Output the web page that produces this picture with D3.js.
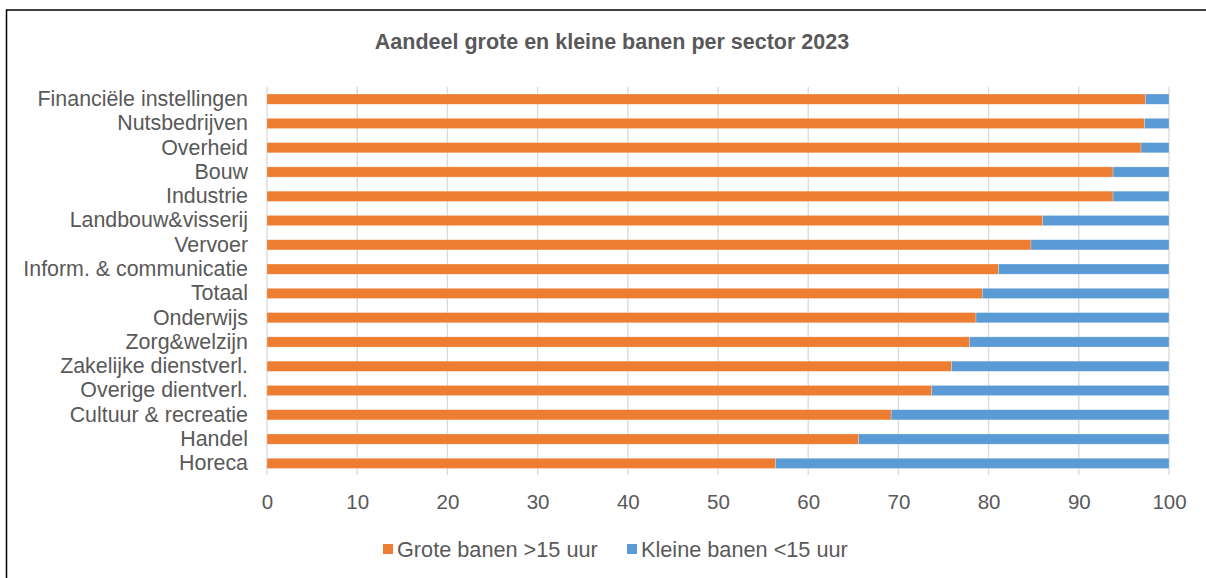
<!DOCTYPE html>
<html><head><meta charset="utf-8">
<script src="https://cdn.jsdelivr.net/npm/d3@7/dist/d3.min.js"></script>
<style>body{margin:0;background:#fff;} svg{display:block;font-family:"Liberation Sans",Arial,sans-serif;}</style>
</head><body>
<svg id="c" width="1206" height="578"></svg>
<script>
const title = "Aandeel grote en kleine banen per sector 2023";
const categories = ["Financiële instellingen","Nutsbedrijven","Overheid","Bouw","Industrie","Landbouw&visserij","Vervoer","Inform. & communicatie","Totaal","Onderwijs","Zorg&welzijn","Zakelijke dienstverl.","Overige dientverl.","Cultuur & recreatie","Handel","Horeca"];
const grote = [97.4,97.3,96.9,93.8,93.8,86.0,84.7,81.1,79.3,78.6,77.9,75.9,73.7,69.2,65.6,56.4];
const kleine = grote.map(v => +(100 - v).toFixed(1));
const seriesNames = ["Grote banen >15 uur","Kleine banen <15 uur"];
const colors = ["#ED7D31","#5B9BD5"];
const xTicks = [0,10,20,30,40,50,60,70,80,90,100];

const svg = d3.select("#c");
// outer frame
svg.append("rect").attr("x",6.5).attr("y",10).attr("width",1250).attr("height",620)
  .attr("fill","none").attr("stroke","#000").attr("stroke-width",1.5);

svg.append("text").attr("x",612).attr("y",49).attr("text-anchor","middle")
  .attr("font-size",21.5).attr("font-weight","bold").attr("fill","#595959").text(title);

const x = d3.scaleLinear().domain([0,100]).range([267,1169]);
const y = d3.scaleBand().domain(categories).range([87,475.5]).paddingInner(0.58).paddingOuter(0.29);

// gridlines
svg.append("g").selectAll("line").data(xTicks).join("line")
  .attr("x1",d=>x(d)).attr("x2",d=>x(d)).attr("y1",87).attr("y2",475)
  .attr("stroke","#d9d9d9").attr("stroke-width",1.3);

const data = categories.map((c,i)=>({c, g:grote[i], k:kleine[i]}));
const stack = d3.stack().keys(["g","k"])(data);
svg.append("g").selectAll("g").data(stack).join("g")
  .attr("fill",(d,i)=>colors[i])
  .selectAll("rect").data(d=>d).join("rect")
  .attr("x",d=>x(d[0])).attr("width",d=>x(d[1])-x(d[0]))
  .attr("y",d=>y(d.data.c)).attr("height",y.bandwidth())
  .attr("stroke","#fff").attr("stroke-opacity",0.4).attr("stroke-width",0.6);

// axes
const xAxis = svg.append("g").attr("transform","translate(0,475)")
  .call(d3.axisBottom(x).tickValues(xTicks).tickSize(0).tickPadding(19));
xAxis.select(".domain").remove();
xAxis.selectAll("text").attr("font-size",20.5).attr("fill","#595959").attr("font-family","Liberation Sans, Arial, sans-serif");

const yAxis = svg.append("g").attr("transform","translate(267,0)")
  .call(d3.axisLeft(y).tickSize(0).tickPadding(19));
yAxis.select(".domain").remove();
yAxis.selectAll("text").attr("font-size",21.4).attr("fill","#595959").attr("font-family","Liberation Sans, Arial, sans-serif");

// legend
const legX = [383,627];
const leg = svg.append("g");
seriesNames.forEach((n,i)=>{
  leg.append("rect").attr("x",legX[i]).attr("y",544).attr("width",10).attr("height",10).attr("fill",colors[i]);
  leg.append("text").attr("x",legX[i]+14).attr("y",557).attr("font-size",21.7).attr("fill","#595959").text(n);
});
</script>
</body></html>
